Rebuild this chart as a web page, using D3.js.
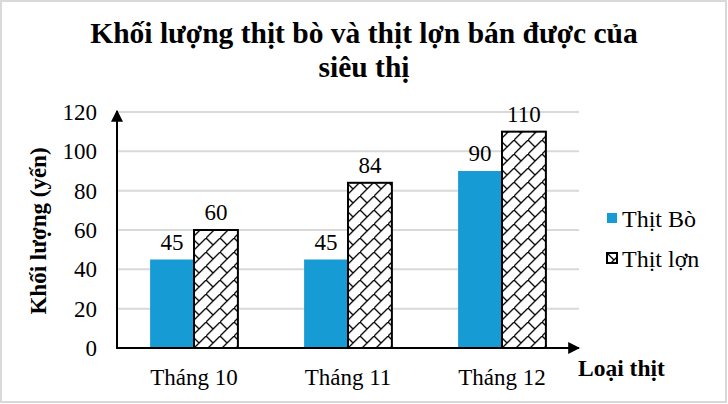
<!DOCTYPE html>
<html>
<head>
<meta charset="utf-8">
<script src="https://cdn.jsdelivr.net/npm/d3@7"></script>
<style>
  body { margin: 0; background: #fff; }
  svg text { font-family: "Liberation Serif", "Times New Roman", serif !important; fill: #000; }
</style>
</head>
<body>
<div id="chart"></div>
<script>
const months = ["Tháng 10", "Tháng 11", "Tháng 12"];
const seriesNames = ["Thịt Bò", "Thịt lợn"];
const beef = [45, 45, 90];
const pork = [60, 84, 110];
const yTicks = [0, 20, 40, 60, 80, 100, 120];

const w = 728;
const h = 404;
const plotLeft = 117, plotRight = 579, plotTop = 112, plotBottom = 348;

const svg = d3.select("#chart")
  .append("svg")
  .attr("width", w)
  .attr("height", h);

// border of the chart area
svg.append("rect")
  .attr("x", 1).attr("y", 1)
  .attr("width", w - 3).attr("height", h - 3)
  .attr("fill", "#fff")
  .attr("stroke", "#d9d9d9")
  .attr("stroke-width", 2);

const defs = svg.append("defs");

// zigzag weave pattern for the pork bars
const pat = defs.append("pattern")
  .attr("id", "weave")
  .attr("patternUnits", "userSpaceOnUse")
  .attr("width", 14).attr("height", 14);
pat.append("rect").attr("width", 14).attr("height", 14).attr("fill", "#fff");
pat.append("path")
  .attr("d", "M-1,15 L15,-1 M0,0 L7,7")
  .attr("stroke", "#000").attr("stroke-width", 1.3).attr("fill", "none");

["arrowY", "arrowX"].forEach((id) => {
  defs.append("marker")
    .attr("id", id)
    .attr("viewBox", "0 0 10 10")
    .attr("refX", 9).attr("refY", 5)
    .attr("markerUnits", "userSpaceOnUse")
    .attr("markerWidth", 12).attr("markerHeight", 12)
    .attr("orient", "auto")
    .append("path")
    .attr("d", "M0,0 L10,5 L0,10 Z")
    .attr("fill", "#000");
});

// scales
const x0 = d3.scaleBand()
  .domain(months)
  .range([plotLeft, plotRight])
  .paddingInner(0.43)
  .paddingOuter(0.215);

const x1 = d3.scaleBand()
  .domain(seriesNames)
  .range([0, x0.bandwidth()]);

const y = d3.scaleLinear()
  .domain([0, 120])
  .range([plotBottom, plotTop]);

// gridlines
svg.append("g")
  .selectAll("line")
  .data(yTicks.filter((d) => d > 0))
  .enter()
  .append("line")
  .attr("x1", plotLeft).attr("x2", plotRight)
  .attr("y1", (d) => y(d)).attr("y2", (d) => y(d))
  .attr("stroke", "#d9d9d9")
  .attr("stroke-width", 2);

// y tick labels
const yAxis = d3.axisLeft(y).tickValues(yTicks).tickSize(0).tickPadding(20);
const gy = svg.append("g")
  .attr("transform", "translate(" + plotLeft + ",0)")
  .call(yAxis);
gy.select(".domain").remove();
gy.selectAll("text")
  .attr("font-size", 23);

// bars
const data = months.map((m, i) => ({ month: m, values: [beef[i], pork[i]] }));
const groups = svg.selectAll(".grp")
  .data(data)
  .enter()
  .append("g")
  .attr("class", "grp")
  .attr("transform", (d) => "translate(" + x0(d.month) + ",0)");

groups.selectAll("rect")
  .data((d) => d.values.map((v, j) => ({ name: seriesNames[j], v: v })))
  .enter()
  .append("rect")
  .attr("x", (d) => x1(d.name))
  .attr("y", (d) => y(d.v))
  .attr("width", x1.bandwidth())
  .attr("height", (d) => y(0) - y(d.v))
  .attr("fill", (d) => d.name === seriesNames[0] ? "#169bd5" : "url(#weave)")
  .attr("stroke", (d) => d.name === seriesNames[0] ? "none" : "#000")
  .attr("stroke-width", 2);

groups.selectAll(".val")
  .data((d) => d.values.map((v, j) => ({ name: seriesNames[j], v: v })))
  .enter()
  .append("text")
  .attr("class", "val")
  .attr("x", (d) => x1(d.name) + x1.bandwidth() / 2)
  .attr("y", (d) => y(d.v) - 10)
  .attr("text-anchor", "middle")
  .attr("font-size", 23)
  .text((d) => d.v);

// axes lines with arrows
svg.append("line")
  .attr("x1", plotLeft).attr("y1", plotBottom)
  .attr("x2", plotLeft).attr("y2", plotTop - 1)
  .attr("stroke", "#000").attr("stroke-width", 2)
  .attr("marker-end", "url(#arrowY)");
svg.append("line")
  .attr("x1", plotLeft - 1).attr("y1", plotBottom)
  .attr("x2", 579).attr("y2", plotBottom)
  .attr("stroke", "#000").attr("stroke-width", 2)
  .attr("marker-end", "url(#arrowX)");

// category labels
const xAxis = d3.axisBottom(x0).tickSize(0).tickPadding(21);
const gx = svg.append("g")
  .attr("transform", "translate(0," + plotBottom + ")")
  .call(xAxis);
gx.select(".domain").remove();
gx.selectAll("text")
  .attr("font-size", 23);

// title
svg.append("text")
  .attr("x", 364).attr("y", 43)
  .attr("text-anchor", "middle")
  .attr("font-size", 29.5).attr("font-weight", "bold")
  .text("Khối lượng thịt bò và thịt lợn bán được của");
svg.append("text")
  .attr("x", 364).attr("y", 77)
  .attr("text-anchor", "middle")
  .attr("font-size", 29.5).attr("font-weight", "bold")
  .text("siêu thị");

// axis titles
svg.append("text")
  .attr("transform", "translate(46,231) rotate(-90)")
  .attr("text-anchor", "middle")
  .attr("font-size", 23).attr("font-weight", "bold")
  .text("Khối lượng (yến)");
svg.append("text")
  .attr("x", 578).attr("y", 376)
  .attr("font-size", 23.5).attr("font-weight", "bold")
  .text("Loại thịt");

// legend
const legend = svg.selectAll(".leg")
  .data(seriesNames)
  .enter()
  .append("g")
  .attr("class", "leg")
  .attr("transform", (d, i) => "translate(607," + (213 + i * 40) + ")");
legend.append("rect")
  .attr("width", 10).attr("height", 10)
  .attr("fill", (d, i) => i === 0 ? "#169bd5" : "url(#weave)")
  .attr("stroke", (d, i) => i === 0 ? "none" : "#000")
  .attr("stroke-width", 2);
legend.append("text")
  .attr("x", 15).attr("y", 14)
  .attr("font-size", 24)
  .text((d) => d);
</script>
</body>
</html>
